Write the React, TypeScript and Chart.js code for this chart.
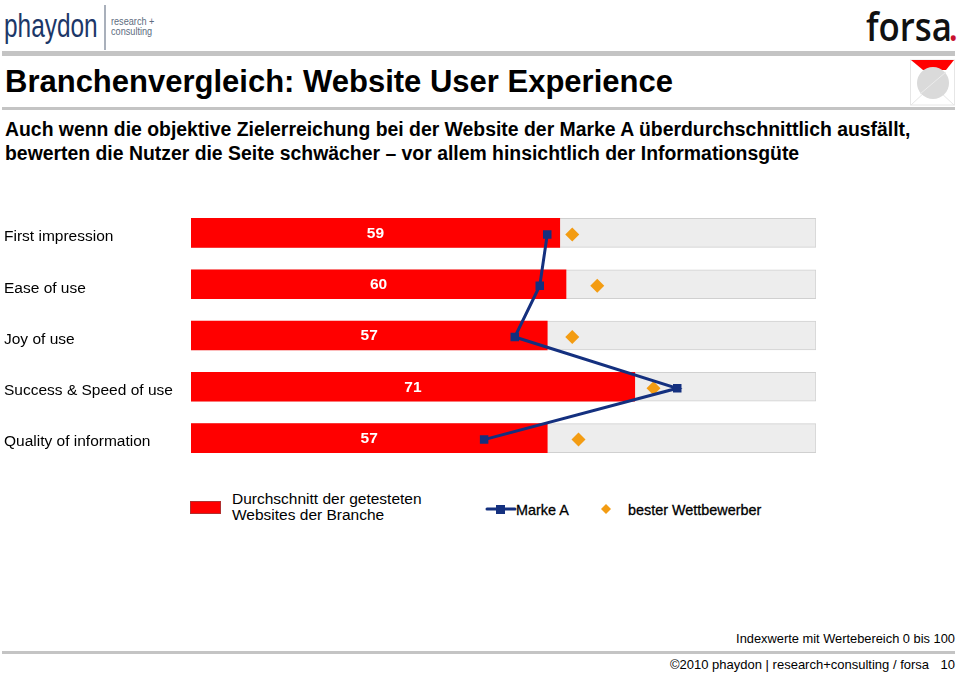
import React, { useEffect, useRef } from "react";
import { Chart, registerables } from "chart.js";

Chart.register(...registerables);

const categories = ["First impression", "Ease of use", "Joy of use", "Success & Speed of use", "Quality of information"];
const branchAverage = [59, 60, 57, 71, 57];
const markeA = [57, 55.8, 51.8, 77.8, 46.9];
const competitor = [61, 65, 61, 74, 62];
const trackMax = [100, 100, 100, 100, 100];

const FONT = '"Liberation Sans", Arial, sans-serif';

const valueLabels = {
  id: "valueLabels",
  afterDatasetsDraw(chart: any) {
    const idx = chart.data.datasets.findIndex((d: any) => d.label === "avg");
    const meta = chart.getDatasetMeta(idx);
    const xs = chart.scales.x;
    const ctx = chart.ctx;
    ctx.save();
    ctx.font = `bold 15.5px ${FONT}`;
    ctx.fillStyle = "#ffffff";
    ctx.textAlign = "center";
    ctx.textBaseline = "middle";
    meta.data.forEach((el: any, i: number) => {
      ctx.fillText(String(branchAverage[i]), (xs.getPixelForValue(0) + el.x) / 2, el.y + 0.5);
    });
    ctx.restore();
  },
};

function Rule({ x, y, w, h, c = "#c4c4c4" }: any) {
  return <div style={{ position: "absolute", left: x, top: y, width: w, height: h, background: c }} />;
}

function T({ x, y, size, bold, children, color = "#000", right, font, spacing, scale, stroke }: any) {
  const pos: any = right !== undefined ? { right } : { left: x };
  return (
    <div
      style={{
        position: "absolute",
        ...pos,
        top: y,
        fontFamily: font || FONT,
        fontSize: size,
        fontWeight: bold ? 700 : 400,
        color,
        lineHeight: 1,
        whiteSpace: "pre",
        letterSpacing: spacing,
        transform: scale ? `scaleX(${scale})` : undefined,
        transformOrigin: "left top",
        WebkitTextStroke: stroke,
      }}
    >
      {children}
    </div>
  );
}

export default function App() {
  const ref = useRef<HTMLCanvasElement>(null);
  useEffect(() => {
    const chart = new Chart(ref.current as HTMLCanvasElement, {
      type: "bar",
      data: {
        labels: categories,
        datasets: [
          {
            type: "line",
            label: "Marke A",
            data: markeA.map((v, i) => ({ x: v, y: i })),
            yAxisID: "y2",
            borderColor: "#14307f",
            backgroundColor: "#14307f",
            borderWidth: 3,
            pointStyle: "rect",
            pointRadius: 6,
            pointBorderWidth: 0,
            tension: 0,
            order: 0,
          },
          {
            type: "line",
            label: "bester Wettbewerber",
            data: competitor.map((v, i) => ({ x: v, y: i })),
            yAxisID: "y2",
            showLine: false,
            borderColor: "#f39c12",
            backgroundColor: "#f39c12",
            pointStyle: "rectRot",
            pointRadius: 7,
            pointBorderWidth: 0,
            order: 0,
          },
          {
            label: "avg",
            data: branchAverage,
            backgroundColor: "#ff0000",
            grouped: false,
            barThickness: 29,
            order: 1,
          },
          {
            label: "track",
            data: trackMax,
            backgroundColor: "#ededed",
            borderColor: "#d0d0d0",
            borderWidth: { top: 1, right: 1, bottom: 1, left: 0 },
            grouped: false,
            barThickness: 29,
            order: 2,
          },
        ] as any,
      },
      options: {
        indexAxis: "y",
        animation: false,
        responsive: false,
        layout: { padding: { left: 4, right: 144, top: 0, bottom: 0 } },
        plugins: { legend: { display: false }, tooltip: { enabled: false } },
        scales: {
          x: { min: 0, max: 100, display: false },
          y: {
            position: "left",
            grid: { display: false },
            border: { display: false },
            afterFit(s: any) {
              s.width = 187;
            },
            ticks: {
              crossAlign: "far",
              padding: 0,
              labelOffset: 4,
              color: "#000",
              autoSkip: false,
              font: { family: FONT, size: 15.5 },
            },
          },
          y2: { type: "linear", display: false, reverse: true, offset: false, bounds: "data", min: -0.53, max: 4.47 },
        },
      } as any,
      plugins: [valueLabels],
    });
    return () => chart.destroy();
  }, []);

  return (
    <div style={{ position: "absolute", left: 0, top: 0, width: 960, height: 674, overflow: "hidden", background: "#fff" }}>
      <T x={4} y={9} size={33} color="#1c3768" scale={0.74}>phaydon</T>
      <Rule x={104} y={5} w={2} h={45} c="#a9b0bb" />
      <T x={111} y={16} size={10.5} color="#5d6c80" scale={0.87}>research +</T>
      <T x={111} y={26} size={10.5} color="#5d6c80" scale={0.87}>consulting</T>
      <div style={{ position: "absolute", left: 866, top: 6, fontFamily: '"Open Sans", sans-serif', fontWeight: 600, fontSize: 40, lineHeight: 1, color: "#111", whiteSpace: "pre", transform: "scaleX(0.87)", transformOrigin: "left top" }}>
        forsa<span style={{ color: "#c8102e", marginLeft: -4 }}>.</span>
      </div>
      <Rule x={2} y={51} w={953} h={5} />
      <Rule x={2} y={107} w={953} h={3} />
      <svg style={{ position: "absolute", left: 909, top: 59 }} width={48} height={48}>
        <rect x={1.5} y={1} width={44} height={45} fill="#fff" stroke="#e6e6e6" />
        <path d="M2 1 L45 1 L37 11 L14 11 Z" fill="#ff0000" />
        <path d="M2 46 L17 32 M45 46 L30 32" stroke="#e6e6e6" strokeWidth={1} />
        <circle cx={24} cy={24} r={16} fill="#dadada" />
        <path d="M11 35 L37 13" stroke="#ececec" strokeWidth={1} />
      </svg>
      <T x={5} y={66} size={31} bold>Branchenvergleich: Website User Experience</T>
      <T x={5} y={119.5} size={19.4} bold>Auch wenn die objektive Zielerreichung bei der Website der Marke A überdurchschnittlich ausfällt,</T>
      <T x={5} y={143.5} size={19.4} bold>bewerten die Nutzer die Seite schwächer – vor allem hinsichtlich der Informationsgüte</T>
      <canvas ref={ref} width={960} height={275} style={{ position: "absolute", left: 0, top: 198, display: "block" }} />
      <div style={{ position: "absolute", left: 190, top: 501, width: 29, height: 11, background: "#ff0000", border: "1px solid #b03030" }} />
      <T x={232} y={491} size={15.5}>Durchschnitt der getesteten</T>
      <T x={232} y={507} size={15.5}>Websites der Branche</T>
      <svg style={{ position: "absolute", left: 485, top: 502 }} width={32} height={14}>
        <line x1={2} y1={7} x2={30} y2={7} stroke="#14307f" strokeWidth={3} strokeLinecap="round" />
        <rect x={11} y={3} width={9} height={9} fill="#14307f" />
      </svg>
      <T x={516} y={503} size={14.4} stroke="0.3px #000">Marke A</T>
      <svg style={{ position: "absolute", left: 600, top: 503 }} width={12} height={12}>
        <path d="M6 1 L11 6 L6 11 L1 6 Z" fill="#f39c12" />
      </svg>
      <T x={628} y={503} size={14.4} stroke="0.3px #000">bester Wettbewerber</T>
      <T right={5} y={632.5} size={12.85}>Indexwerte mit Wertebereich 0 bis 100</T>
      <Rule x={2} y={651} w={953} h={3} />
      <T x={670} y={658} size={13}>©2010 phaydon | research+consulting / forsa</T>
      <T right={5} y={658} size={13}>10</T>
    </div>
  );
}
